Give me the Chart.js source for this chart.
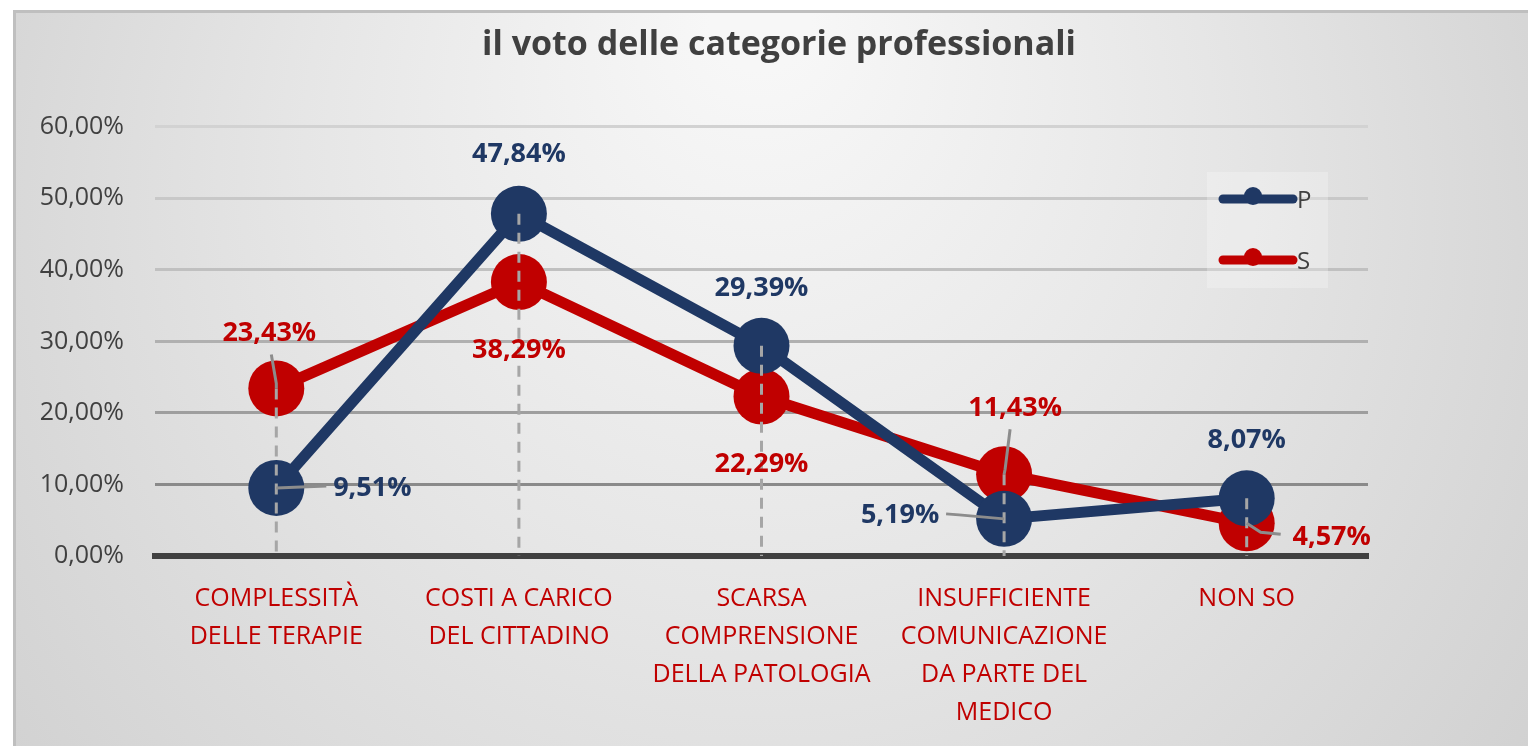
<!DOCTYPE html>
<html>
<head>
<meta charset="utf-8">
<script src="https://cdn.jsdelivr.net/npm/chart.js@4.4.0/dist/chart.umd.min.js"></script>
<style>
    html, body { margin: 0; padding: 0; background: #ffffff; }
    #wrap { width: 1528px; height: 746px; }
</style>
</head>
<body>
<div id="wrap"><canvas id="graficoVoto" width="1528" height="746"></canvas></div>
<script>
// dati
var categorie = [
    ['COMPLESSITÀ', 'DELLE TERAPIE'],
    ['COSTI A CARICO', 'DEL CITTADINO'],
    ['SCARSA', 'COMPRENSIONE', 'DELLA PATOLOGIA'],
    ['INSUFFICIENTE', 'COMUNICAZIONE', 'DA PARTE DEL', 'MEDICO'],
    ['NON SO']
];
var valoriP = [9.51, 47.84, 29.39, 5.19, 8.07];
var valoriS = [23.43, 38.29, 22.29, 11.43, 4.57];
var ticksY = [0, 10, 20, 30, 40, 50, 60];

var BLU = '#1f3864';
var ROSSO = '#c00000';
var FONT = "'Open Sans', sans-serif";

// posizione delle etichette rispetto al punto (stile, non dati)
var posEtichette = {
    0: [{ dx: 96, dy: 0, lead: [[50, -2]] }, { dx: 0, dy: -59 }, { dx: 0, dy: -57 },
        { dx: -104, dy: -4, lead: [[-45, -4], [-58, -5]] }, { dx: 0, dy: -58 }],
    1: [{ dx: -7, dy: -55, lead: [[0, -5], [-5, -34]] }, { dx: 0, dy: 68 }, { dx: 0, dy: 68 },
        { dx: 11, dy: -66, lead: [[1, -5], [6, -45]] }, { dx: 85, dy: 14, lead: [[14, 9], [34, 11]] }]
};

function formatta(v) {
    return v.toFixed(2).replace('.', ',') + '%';
}

var sfondo = {
    id: 'sfondo',
    beforeDraw: function (chart) {
        var c = chart.ctx;
        c.save();
        c.fillStyle = '#ffffff';
        c.fillRect(0, 0, chart.width, chart.height);
        var g = c.createRadialGradient(760, 20, 50, 760, 300, 950);
        g.addColorStop(0, '#f7f7f7');
        g.addColorStop(0.45, '#e6e6e6');
        g.addColorStop(1, '#cfcfcf');
        c.fillStyle = g;
        c.fillRect(13, 10, chart.width - 13, chart.height - 10);
        c.strokeStyle = '#bfbfbf';
        c.lineWidth = 3;
        c.beginPath();
        c.moveTo(14.5, chart.height);
        c.lineTo(14.5, 11.5);
        c.lineTo(chart.width, 11.5);
        c.stroke();
        c.restore();
    }
};

var lineeCaduta = {
    id: 'lineeCaduta',
    afterDatasetsDraw: function (chart) {
        var c = chart.ctx;
        var x = chart.scales.x, y = chart.scales.y;
        c.save();
        c.strokeStyle = '#a6a6a6';
        c.lineWidth = 3;
        c.setLineDash([11, 8]);
        for (var i = 0; i < categorie.length; i++) {
            var px = x.getPixelForValue(i);
            var top = y.getPixelForValue(Math.max(valoriP[i], valoriS[i]));
            c.beginPath();
            c.moveTo(px, top);
            c.lineTo(px, y.bottom);
            c.stroke();
        }
        c.restore();
    }
};

var etichette = {
    id: 'etichette',
    afterDatasetsDraw: function (chart) {
        var c = chart.ctx;
        c.save();
        chart.data.datasets.forEach(function (ds, d) {
            var meta = chart.getDatasetMeta(d);
            meta.data.forEach(function (pt, i) {
                var p = posEtichette[d][i];
                if (p.lead) {
                    c.strokeStyle = '#8c8c8c';
                    c.lineWidth = 3;
                    c.setLineDash([]);
                    c.beginPath();
                    c.moveTo(pt.x, pt.y);
                    p.lead.forEach(function (q) { c.lineTo(pt.x + q[0], pt.y + q[1]); });
                    c.stroke();
                }
                c.fillStyle = ds.borderColor;
                c.font = 'bold 27px ' + FONT;
                c.textAlign = 'center';
                c.textBaseline = 'middle';
                c.fillText(formatta(ds.data[i]), pt.x + p.dx, pt.y + p.dy);
            });
        });
        c.restore();
    }
};

var legenda = {
    id: 'legenda',
    afterDraw: function (chart) {
        var c = chart.ctx;
        c.save();
        c.fillStyle = 'rgba(255,255,255,0.25)';
        c.fillRect(1207, 172, 121, 116);
        chart.data.datasets.forEach(function (ds, d) {
            var yy = 199 + d * 61;
            c.strokeStyle = ds.borderColor;
            c.lineWidth = 9;
            c.lineCap = 'round';
            c.beginPath();
            c.moveTo(1223, yy);
            c.lineTo(1293, yy);
            c.stroke();
            c.fillStyle = ds.borderColor;
            c.beginPath();
            c.arc(1253, yy - 3, 9, 0, Math.PI * 2);
            c.fill();
            c.fillStyle = '#404040';
            c.font = '24px ' + FONT;
            c.textAlign = 'left';
            c.textBaseline = 'middle';
            c.fillText(ds.label, 1297, yy + 2);
        });
        c.restore();
    }
};

var ctx = document.getElementById('graficoVoto').getContext('2d');
var grafico = new Chart(ctx, {
    type: 'line',
    data: {
        labels: categorie,
        datasets: [{
            label: 'P',
            data: valoriP,
            borderColor: BLU,
            backgroundColor: BLU,
            borderWidth: 11,
            pointRadius: 28,
            pointHoverRadius: 28,
            pointBackgroundColor: BLU,
            pointBorderWidth: 0,
            tension: 0
        },
        {
            label: 'S',
            data: valoriS,
            borderColor: ROSSO,
            backgroundColor: ROSSO,
            borderWidth: 11,
            pointRadius: 28,
            pointHoverRadius: 28,
            pointBackgroundColor: ROSSO,
            pointBorderWidth: 0,
            tension: 0
        }]
    },
    options: {
        responsive: false,
        animation: false,
        layout: { padding: { left: 30, right: 0, top: 0, bottom: 0 } },
        plugins: {
            legend: { display: false },
            tooltip: { enabled: false },
            title: {
                display: true,
                text: 'il voto delle categorie professionali',
                color: '#404040',
                font: { family: FONT, size: 34, weight: 'bold' },
                padding: { top: 25, bottom: 61 }
            }
        },
        scales: {
            x: {
                offset: true,
                grid: { display: false, drawTicks: false },
                border: { display: true, color: '#404040', width: 6 },
                ticks: {
                    color: ROSSO,
                    font: { family: FONT, size: 25, lineHeight: 1.52 },
                    padding: 24,
                    maxRotation: 0,
                    autoSkip: false
                },
                afterFit: function (s) { s.height = 190; }
            },
            y: {
                min: 0,
                max: 60,
                afterBuildTicks: function (s) {
                    s.ticks = ticksY.map(function (v) { return { value: v }; });
                },
                grid: {
                    drawTicks: false,
                    lineWidth: 3,
                    color: function (c) {
                        var cols = ['#404040', '#8a8a8a', '#9e9e9e', '#b0b0b0', '#c0c0c0', '#c8c8c8', '#d2d2d2'];
                        return cols[c.index] || '#c8c8c8';
                    }
                },
                border: { display: false },
                ticks: {
                    color: '#404040',
                    font: { family: FONT, size: 25 },
                    padding: 31,
                    callback: function (v) { return formatta(v); }
                },
                afterFit: function (s) { s.width = 125; }
            },
            y2: {
                position: 'right',
                display: true,
                grid: { display: false, drawTicks: false },
                border: { display: false },
                ticks: { display: false },
                afterFit: function (s) { s.width = 160; }
            }
        }
    },
    plugins: [sfondo, lineeCaduta, etichette, legenda]
});
</script>
</body>
</html>
